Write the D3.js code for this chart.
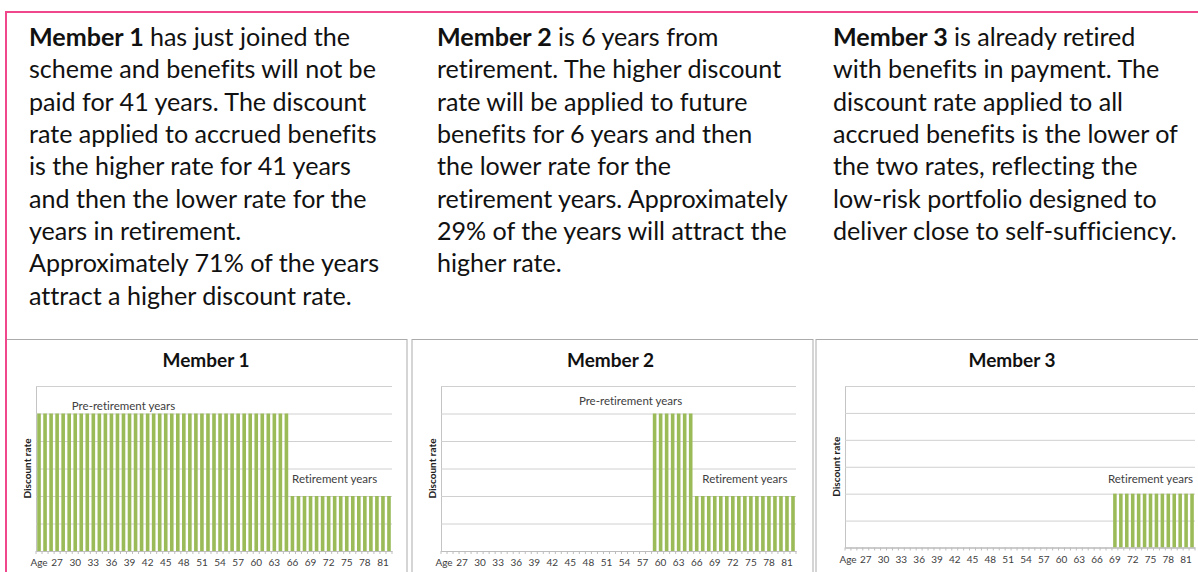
<!DOCTYPE html>
<html>
<head>
<meta charset="utf-8">
<script src="https://cdn.jsdelivr.net/npm/d3@7"></script>
<style>
  html, body { margin: 0; padding: 0; background: #fff; }
  svg { display: block; font-family: Lato, "Open Sans", sans-serif; font-variant-ligatures: none; }
</style>
</head>
<body>
<svg id="chart" width="1198" height="572"></svg>
<script>
// categories along the x axis (first slot is labelled "Age")
const ages = ["Age", "25", "26", "27", "28", "29", "30", "31", "32", "33", "34", "35", "36", "37", "38",
  "39", "40", "41", "42", "43", "44", "45", "46", "47", "48", "49", "50", "51", "52", "53", "54",
  "55", "56", "57", "58", "59", "60", "61", "62", "63", "64", "65", "66", "67", "68", "69", "70",
  "71", "72", "73", "74", "75", "76", "77", "78", "79", "80", "81", "82"];

// only every third category carries a label
const tickLabels = ["Age", "27", "30", "33", "36", "39", "42", "45", "48", "51", "54", "57", "60",
  "63", "66", "69", "72", "75", "78", "81"];

// discount rate per year (5 = higher rate, 2 = lower rate, null = no bar)
const member1 = [5, 5, 5, 5, 5, 5, 5, 5, 5, 5, 5, 5, 5, 5, 5, 5, 5, 5, 5, 5, 5, 5, 5, 5, 5, 5, 5, 5, 5, 5,
  5, 5, 5, 5, 5, 5, 5, 5, 5, 5, 5, 5, 2, 2, 2, 2, 2, 2, 2, 2, 2, 2, 2, 2, 2, 2, 2, 2, 2];
const member2 = [null, null, null, null, null, null, null, null, null, null, null, null, null, null, null,
  null, null, null, null, null, null, null, null, null, null, null, null, null, null, null, null, null,
  null, null, null, 5, 5, 5, 5, 5, 5, 5, 2, 2, 2, 2, 2, 2, 2, 2, 2, 2, 2, 2, 2, 2, 2, 2, 2];
const member3 = [null, null, null, null, null, null, null, null, null, null, null, null, null, null, null,
  null, null, null, null, null, null, null, null, null, null, null, null, null, null, null, null, null,
  null, null, null, null, null, null, null, null, null, null, null, null, null, 2, 2, 2, 2, 2, 2, 2, 2,
  2, 2, 2, 2, 2, 2];

const rateMax = 6;

// explanatory paragraphs, one line per entry; first entry starts with the bold name
const text1 = ["has just joined the", "scheme and benefits will not be", "paid for 41 years. The discount",
  "rate applied to accrued benefits", "is the higher rate for 41 years", "and then the lower rate for the",
  "years in retirement.", "Approximately 71% of the years", "attract a higher discount rate."];
const text2 = ["is 6 years from", "retirement. The higher discount", "rate will be applied to future",
  "benefits for 6 years and then", "the lower rate for the", "retirement years. Approximately",
  "29% of the years will attract the", "higher rate."];
const text3 = ["is already retired", "with benefits in payment. The", "discount rate applied to all",
  "accrued benefits is the lower of", "the two rates, reflecting the", "low-risk portfolio designed to",
  "deliver close to self-sufficiency."];

const green = "#9bbb59";
const pink = "#f0468b";
const ink = "#404040";

const svg = d3.select("#chart");

// ---- text block ----
const columns = [
  { name: "Member 1", lines: text1, x: 29 },
  { name: "Member 2", lines: text2, x: 437 },
  { name: "Member 3", lines: text3, x: 833 }
];

const para = svg.append("g").attr("class", "paragraphs").attr("fill", "#111");

columns.forEach(col => {
  const t = para.append("text").attr("class", "para");
  col.lines.forEach((line, i) => {
    if (i === 0) {
      t.append("tspan").attr("x", col.x).attr("y", 46)
        .attr("font-weight", "bold").text(col.name + " ");
      t.append("tspan").text(line);
    } else {
      t.append("tspan").attr("x", col.x).attr("y", 46 + i * 32.35).text(line);
    }
  });
});

// size the paragraph font so the widest line of column 1 matches the picture
const probe = svg.append("text").attr("font-size", 24).text(text1[1]);
const paraSize = 24 * 347 / probe.node().getComputedTextLength();
probe.remove();
para.selectAll("text").attr("font-size", paraSize);

// ---- chart panels ----
const panels = [
  { name: "Member 1", values: member1, box: [6, 339.5, 401], plot: [36, 386, 356, 165],
    notes: [{ text: "Pre-retirement years", at: "38", v: 5, dy: -4 },
            { text: "Retirement years", at: "73", v: 2, dy: -13 }] },
  { name: "Member 2", values: member2, box: [412, 339.5, 401], plot: [441, 386, 355, 165],
    notes: [{ text: "Pre-retirement years", at: "55", v: 5, dy: -9 },
            { text: "Retirement years", at: "74", v: 2, dy: -13 }] },
  { name: "Member 3", values: member3, box: [816, 339.5, 401], plot: [845, 386, 350, 161.5],
    notes: [{ text: "Retirement years", at: "75", v: 2, dy: -10.5 }] }
];

panels.forEach(p => {
  const [bx, by, bw] = p.box;
  const [px, py, pw, ph] = p.plot;

  svg.append("rect")
    .attr("x", bx).attr("y", by).attr("width", bw).attr("height", 300)
    .attr("fill", "#fff").attr("stroke", "#ababab").attr("stroke-width", 1);

  const g = svg.append("g").attr("transform", `translate(${px},${py})`);

  const x = d3.scaleBand().domain(ages).range([0, pw]).paddingInner(0.4).paddingOuter(0.2);
  const y = d3.scaleLinear().domain([0, rateMax]).range([ph, 0]);

  // gridlines
  g.append("g")
    .call(d3.axisLeft(y).ticks(rateMax).tickSize(-pw).tickFormat(""))
    .call(a => a.selectAll(".tick line").attr("stroke", "#d0d0d0"))
    .call(a => a.select(".domain").attr("stroke", "#c4c4c4"));

  // bars
  g.selectAll("rect.bar")
    .data(ages.map((a, i) => ({ age: a, v: p.values[i] })).filter(d => d.v != null))
    .join("rect")
    .attr("class", "bar")
    .attr("x", d => x(d.age))
    .attr("y", d => y(d.v))
    .attr("width", x.bandwidth())
    .attr("height", d => ph - y(d.v))
    .attr("fill", green);

  // x axis with labels on every third category
  const xa = g.append("g").attr("transform", `translate(0,${ph})`)
    .call(d3.axisBottom(x).tickValues(tickLabels).tickSize(0).tickPadding(8));
  xa.select(".domain").attr("stroke", "#bdbdbd");
  xa.selectAll("text").attr("font-family", "Lato, sans-serif").attr("font-size", 10).attr("fill", ink);

  // minor tick marks at every category boundary
  const step = x.step();
  g.append("g").selectAll("line")
    .data(d3.range(ages.length + 1))
    .join("line")
    .attr("x1", i => i * step).attr("x2", i => i * step)
    .attr("y1", ph).attr("y2", ph + 3)
    .attr("stroke", "#bdbdbd");

  // annotations
  p.notes.forEach(n => {
    g.append("text")
      .attr("x", x(n.at) + x.bandwidth() / 2)
      .attr("y", y(n.v) + n.dy)
      .attr("text-anchor", "middle")
      .attr("font-size", 11.5)
      .attr("fill", ink)
      .text(n.text);
  });

  // y axis title
  g.append("text")
    .attr("transform", `translate(-5,${ph / 2}) rotate(-90)`)
    .attr("text-anchor", "middle")
    .attr("font-size", 10)
    .attr("font-weight", "bold")
    .attr("fill", "#222")
    .text("Discount rate");

  // chart title
  svg.append("text")
    .attr("x", px + pw / 2 - 8)
    .attr("y", 367)
    .attr("text-anchor", "middle")
    .attr("font-size", 19)
    .attr("font-weight", "bold")
    .attr("fill", "#111")
    .text(p.name);
});

// pink frame of the slide region
svg.append("line").attr("x1", 5).attr("x2", 1198).attr("y1", 12).attr("y2", 12)
  .attr("stroke", pink).attr("stroke-width", 2);
svg.append("line").attr("x1", 6).attr("x2", 6).attr("y1", 11).attr("y2", 572)
  .attr("stroke", pink).attr("stroke-width", 2);
</script>
</body>
</html>
